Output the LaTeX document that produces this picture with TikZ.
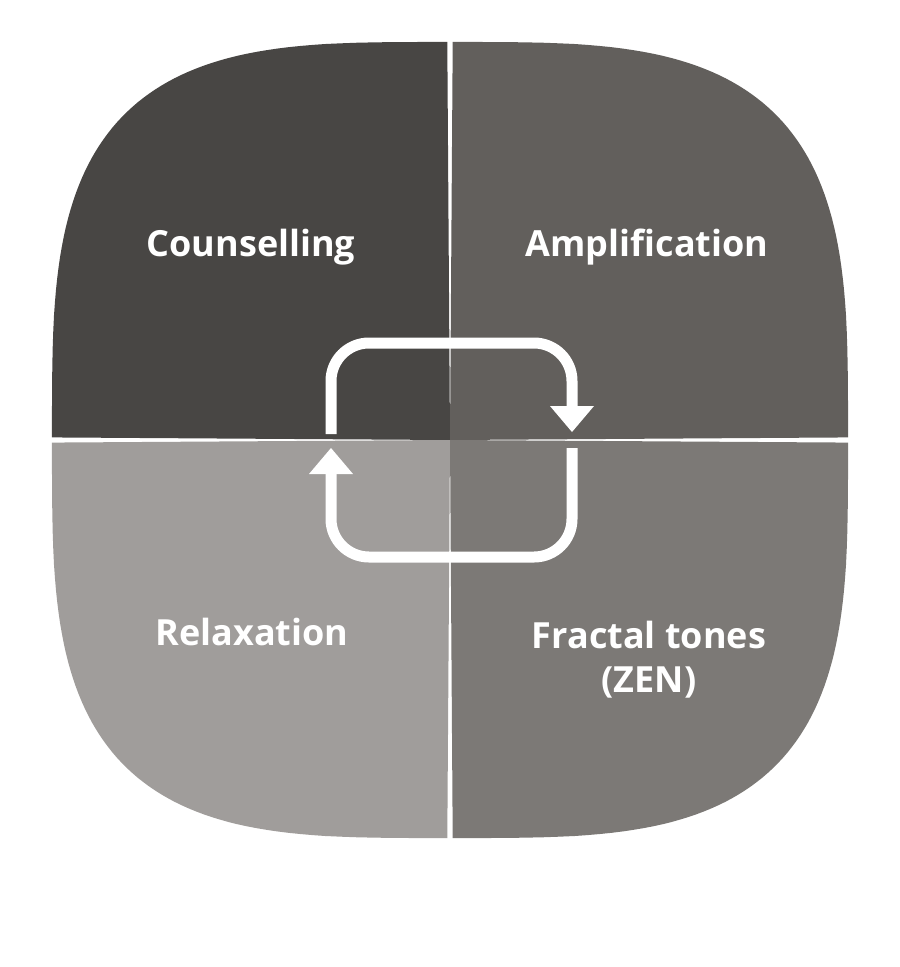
\documentclass[tikz,border=0pt]{standalone}
\usepackage{fontspec}
\setmainfont{Open Sans}
\begin{document}
\begin{tikzpicture}[x=1pt,y=-1pt,
  lbl/.style={text=white,font=\fontsize{36}{44}\selectfont\bfseries,align=center},
  loopline/.style={draw=white,line width=11pt,rounded corners=38pt},
  tip/.style={fill=white,draw=none}]
\useasboundingbox (0,0) rectangle (900,967);
\def\ex{0.58}
\fill[fill=white] (0,0) rectangle (900,967);
\fill[fill={rgb,255:red,72;green,70;blue,68}] (450,440) -- plot[domain=0.01:89.99,samples=60] ({450-398*pow(cos(\x),\ex)},{440-398*pow(sin(\x),\ex)}) -- cycle;
\fill[fill={rgb,255:red,98;green,95;blue,92}] (450,440) -- plot[domain=0.01:89.99,samples=60] ({450+398*pow(cos(\x),\ex)},{440-398*pow(sin(\x),\ex)}) -- cycle;
\fill[fill={rgb,255:red,160;green,157;blue,155}] (450,440) -- plot[domain=0.01:89.99,samples=60] ({450-398*pow(cos(\x),\ex)},{440+398*pow(sin(\x),\ex)}) -- cycle;
\fill[fill={rgb,255:red,124;green,121;blue,118}] (450,440) -- plot[domain=0.01:89.99,samples=60] ({450+398*pow(cos(\x),\ex)},{440+398*pow(sin(\x),\ex)}) -- cycle;
\coordinate (a1) at (331,434);
\coordinate (a2) at (572,408);
\coordinate (b1) at (572,448);
\coordinate (b2) at (331,472);
\draw[loopline] (a1) -- (331,343) -- (572,343) -- (a2);
\draw[loopline] (b1) -- (572,557) -- (331,557) -- (b2);
\fill[tip] (550,406) -- (594,406) -- (572,432) -- cycle;
\fill[tip] (309,474) -- (353,474) -- (331,448) -- cycle;
\node[lbl] (c) at (251,247) {Counselling};
\node[lbl] (am) at (647,247) {Amplification};
\node[lbl] (r) at (252,632) {Relaxation};
\node[lbl] (f) at (649,660) {Fractal tones\\(ZEN)};
\end{tikzpicture}
\end{document}
